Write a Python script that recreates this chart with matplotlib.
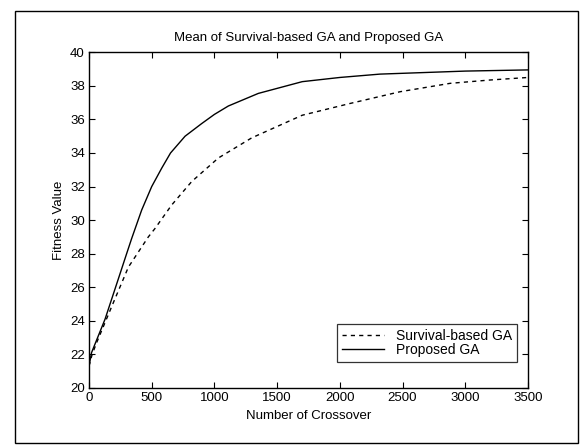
import matplotlib
matplotlib.use('Agg')
import matplotlib.pyplot as plt
from matplotlib.patches import Rectangle

# values
survival_x = [0, 25, 61, 181, 314, 473, 526, 659, 819, 1031, 1297, 1700, 2081, 2480, 2879, 3200, 3500]
survival_y = [21.3, 22.0, 22.7, 24.85, 27.2, 29.0, 29.5, 30.9, 32.3, 33.7, 34.9, 36.25, 36.95, 37.65, 38.15, 38.35, 38.5]

proposed_x = [0, 20, 128, 234, 300, 340, 420, 500, 580, 650, 766, 898, 1000, 1111, 1350, 1700, 2000, 2320, 3000, 3500]
proposed_y = [21.3, 22.1, 24.1, 26.5, 28.0, 28.9, 30.6, 32.0, 33.1, 34.0, 35.0, 35.75, 36.3, 36.8, 37.55, 38.25, 38.5, 38.7, 38.88, 38.95]

xticks = [0, 500, 1000, 1500, 2000, 2500, 3000, 3500]
yticks = [20, 22, 24, 26, 28, 30, 32, 34, 36, 38, 40]

plt.rcParams['font.family'] = ['Liberation Sans', 'DejaVu Sans']

fig = plt.figure(figsize=(5.82, 4.45), dpi=100)
ax = fig.add_axes([0.1529, 0.1281, 0.7543, 0.7544])

ax.plot(survival_x, survival_y, color='black', linestyle=(0, (3, 3)), linewidth=1.0, label='Survival-based GA')
ax.plot(proposed_x, proposed_y, color='black', linestyle='-', linewidth=1.0, label='Proposed GA')

ax.set_xlim(0, 3500)
ax.set_ylim(20, 40)
ax.set_xticks(xticks)
ax.set_yticks(yticks)
ax.tick_params(direction='in', top=True, right=True, length=4, width=0.8, labelsize=9.5, pad=3)
for s in ax.spines.values():
    s.set_linewidth(1.0)

ax.set_title('Mean of Survival-based GA and Proposed GA', fontsize=9.5, pad=8)
ax.set_xlabel('Number of Crossover', fontsize=9.5, labelpad=4)
ax.set_ylabel('Fitness Value', fontsize=9.5, labelpad=4)

leg = ax.legend(loc='lower right', bbox_to_anchor=(0.975, 0.077), fontsize=10, frameon=True,
                fancybox=False, edgecolor='black', handlelength=3.0, handletextpad=0.9,
                borderpad=0.35, labelspacing=0.0, borderaxespad=0)
leg.get_frame().set_linewidth(0.9)

# outer frame around the whole figure
fig.patches.append(Rectangle((15 / 582, 1 - 443 / 445), 563 / 582, 432 / 445,
                             transform=fig.transFigure, fill=False, edgecolor='black', linewidth=1.0))

fig.savefig('out.png', dpi=100)
